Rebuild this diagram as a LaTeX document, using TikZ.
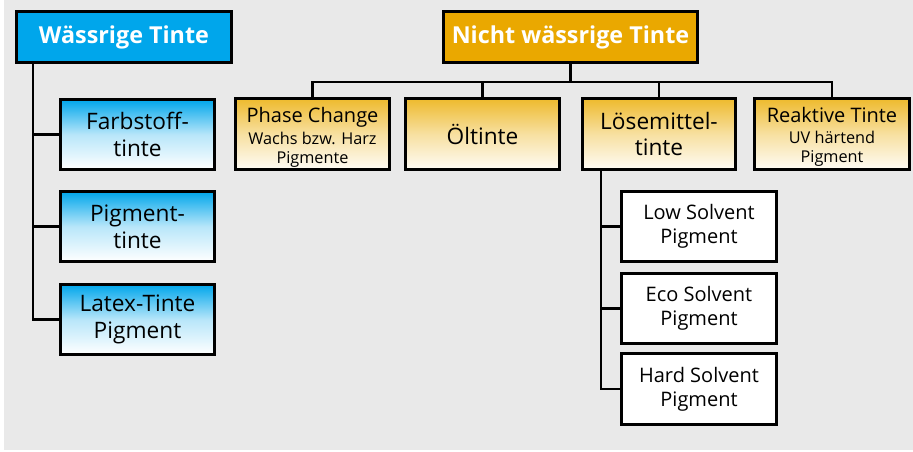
\documentclass[tikz,border=0pt]{standalone}
\usepackage{fontspec}
\setmainfont{Open Sans}
\begin{document}
\begin{tikzpicture}[x=0.75pt,y=-0.75pt,
  box/.style={draw=black,line width=2.1pt,align=center,inner sep=0pt,text=black},
  head/.style={box,font=\fontsize{17.5}{20}\selectfont\bfseries,text=white,minimum height={51*0.75pt}},
  bluehead/.style={head,fill=cblue},
  orangehead/.style={head,fill=corange},
  child/.style={box,font=\fontsize{17}{20}\selectfont,minimum width={154*0.75pt},minimum height={70*0.75pt}},
  bluechild/.style={child,top color=cblue,bottom color=white,middle color=cblue!28!white},
  orangechild/.style={child,top color=corangel,bottom color=corange!4!white,middle color=corangel!45!white},
  whitechild/.style={child,fill=white,minimum width={155*0.75pt},font=\fontsize{15}{18}\selectfont},
  threeline/.style={font=\fontsize{12.2}{12.6}\selectfont},
  conn/.style={draw=black,line width=2.1pt}
]
\definecolor{cblue}{RGB}{0,166,235}
\definecolor{corange}{RGB}{234,168,0}
\definecolor{corangel}{RGB}{238,186,45}
\definecolor{cbg}{RGB}{233,233,233}
\useasboundingbox (0,0) rectangle (913,452);
\fill[white] (0,0) rectangle (913,452);
\fill[cbg] (4,0) rectangle (913,450);

% left tree
\node[bluehead,minimum width={215*0.75pt}] (W) at (124,37) {Wässrige Tinte};
\node[bluechild] (F) at (137.5,134.5) {Farbstoff-\\tinte};
\node[bluechild] (P) at (137.5,226.5) {Pigment-\\tinte};
\node[bluechild] (La) at (137.5,319.5) {Latex-Tinte\\Pigment};
\coordinate (wstem) at (33,64);
\draw[conn] (wstem) |- (La.west);
\draw[conn] (F.west) -- (F.west -| wstem);
\draw[conn] (P.west) -- (P.west -| wstem);

% right tree
\node[orangehead,minimum width={254*0.75pt}] (N) at (570.5,37) {Nicht wässrige Tinte};
\node[orangechild,threeline,minimum height={71*0.75pt}] (PC) at (312.5,134) {\rule{0pt}{16pt}{\fontsize{15}{15}\selectfont Phase Change}\\[3pt]Wachs bzw. Harz\\[1.5pt]Pigmente};
\node[orangechild,minimum height={71*0.75pt}] (O) at (482.5,134) {Öltinte};
\node[orangechild,minimum height={71*0.75pt},minimum width={153*0.75pt}] (L) at (659,134) {Lösemittel-\\tinte};
\node[orangechild,threeline,minimum height={71*0.75pt},minimum width={155*0.75pt}] (R) at (832,134) {\rule{0pt}{16pt}{\fontsize{15}{15}\selectfont Reaktive Tinte}\\[3pt]UV härtend\\[1.5pt]Pigment};
\coordinate (bus) at (570.5,82);
\draw[conn] (N.south) -- (N.south |- bus);
\draw[conn] (PC.north) -- (PC.north |- bus) -- (R.north |- bus) -- (R.north);
\draw[conn] (O.north) -- (O.north |- bus);
\draw[conn] (L.north) -- (L.north |- bus);

\node[whitechild] (LS) at (699,226.5) {Low Solvent\\Pigment};
\node[whitechild] (ES) at (699,308.5) {Eco Solvent\\Pigment};
\node[whitechild,minimum height={71*0.75pt}] (HS) at (699,389) {Hard Solvent\\Pigment};
\coordinate (lstem) at (601,171);
\draw[conn] (lstem) |- (HS.west);
\draw[conn] (LS.west) -- (LS.west -| lstem);
\draw[conn] (ES.west) -- (ES.west -| lstem);
\end{tikzpicture}
\end{document}
